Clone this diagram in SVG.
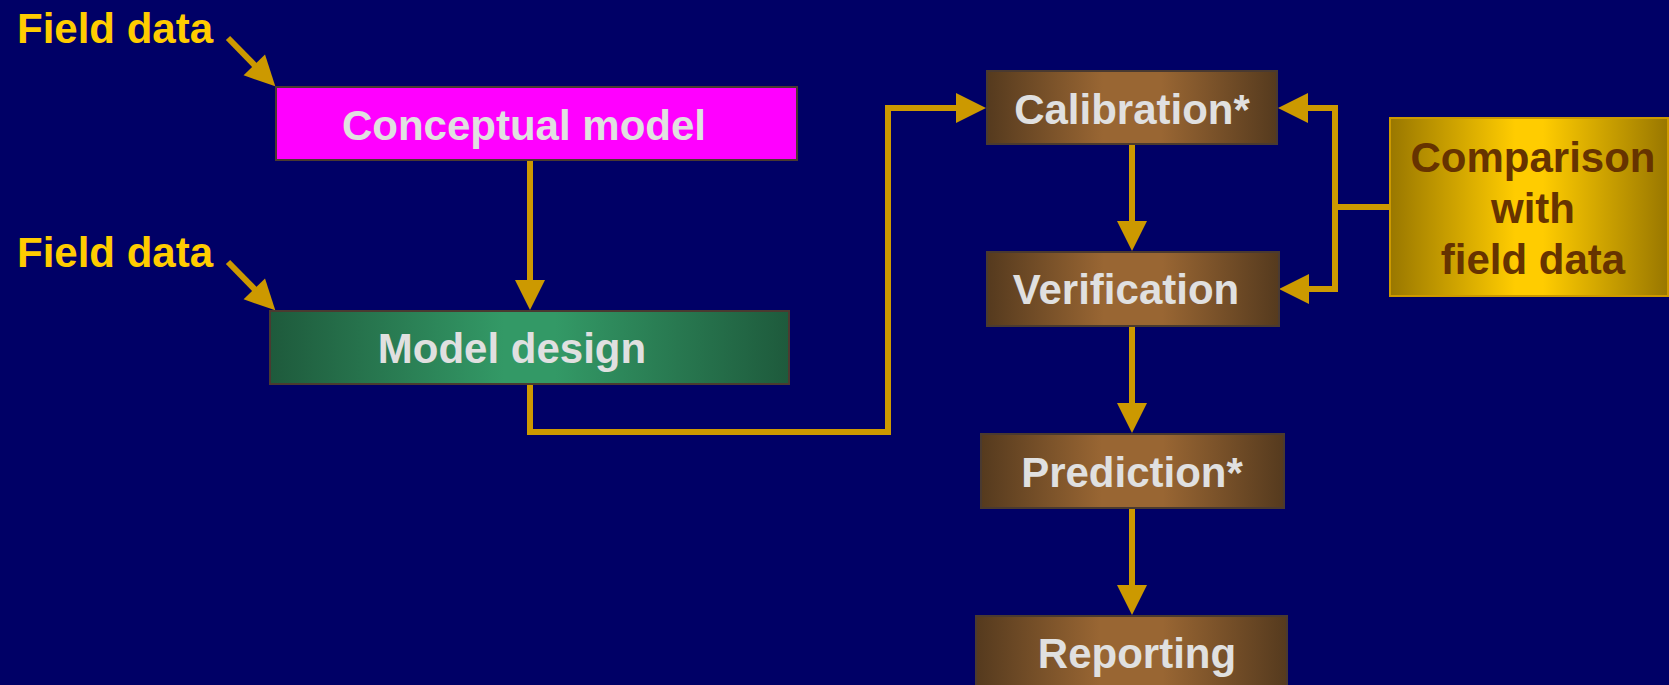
<svg xmlns="http://www.w3.org/2000/svg" width="1669" height="685" viewBox="0 0 1669 685">
<style>
.lbl{font-family:"Liberation Sans",Arial,sans-serif;font-weight:bold;font-size:42px;text-anchor:middle}
.light{fill:#E0E0E0}
.field{fill:#FFCC00;font-family:"Liberation Sans",Arial,sans-serif;font-weight:bold;font-size:42px}
.box{stroke:#4A3A30;stroke-width:2}
.conn{fill:none;stroke:#CC9900;stroke-width:6;marker-end:url(#ah)}
.conn2{fill:none;stroke:#CC9900;stroke-width:6}
</style>
<defs>
<marker id="ah" markerUnits="userSpaceOnUse" markerWidth="31" markerHeight="31" refX="1" refY="15" orient="auto" viewBox="0 0 31 30" overflow="visible">
<path d="M0,0 L30,15 L0,30 z" fill="#CC9900"/>
</marker>
<linearGradient id="brown" x1="0" y1="0" x2="1" y2="0">
<stop offset="0" stop-color="#553A1E"/>
<stop offset="0.4" stop-color="#996633"/>
<stop offset="0.6" stop-color="#996633"/>
<stop offset="1" stop-color="#553A1E"/>
</linearGradient>
<linearGradient id="green" x1="0" y1="0" x2="1" y2="0">
<stop offset="0" stop-color="#1E5A3C"/>
<stop offset="0.45" stop-color="#339966"/>
<stop offset="0.55" stop-color="#339966"/>
<stop offset="1" stop-color="#1E5A3C"/>
</linearGradient>
<linearGradient id="gold" x1="0" y1="0" x2="1" y2="0">
<stop offset="0" stop-color="#997700"/>
<stop offset="0.45" stop-color="#FFCC00"/>
<stop offset="0.55" stop-color="#FFCC00"/>
<stop offset="1" stop-color="#997700"/>
</linearGradient>
</defs>
<rect width="1669" height="685" fill="#000066"/>

<g id="field1"><text class="field" x="17" y="43">Field data</text></g>
<g id="field2"><text class="field" x="17" y="267">Field data</text></g>

<g id="connectors">
<path class="conn" d="M228,38 L255,65.6"/>
<path class="conn" d="M228,262 L255,289.6"/>
<path class="conn" d="M530,161 V281"/>
<path class="conn" d="M530,384 V432 H888 V108 H957"/>
<path class="conn" d="M1132,144 V222"/>
<path class="conn" d="M1132,326 V404"/>
<path class="conn" d="M1132,508 V586"/>
<path class="conn" d="M1390,207 H1335 V108 H1307"/>
<path class="conn" d="M1335,207 V289 H1308"/>
</g>

<g id="conceptual">
<rect class="box" x="276" y="87" width="521" height="73" fill="#FF00FF"/>
<text class="lbl light" x="524" y="140">Conceptual model</text>
</g>
<g id="design">
<rect class="box" x="270" y="311" width="519" height="73" fill="url(#green)"/>
<text class="lbl light" x="512" y="363">Model design</text>
</g>
<g id="calibration">
<rect class="box" x="987" y="71" width="290" height="73" fill="url(#brown)"/>
<text class="lbl light" x="1132" y="124">Calibration*</text>
</g>
<g id="verification">
<rect class="box" x="987" y="252" width="292" height="74" fill="url(#brown)"/>
<text class="lbl light" x="1126" y="304">Verification</text>
</g>
<g id="prediction">
<rect class="box" x="981" y="434" width="303" height="74" fill="url(#brown)"/>
<text class="lbl light" x="1132" y="487">Prediction*</text>
</g>
<g id="reporting">
<rect class="box" x="976" y="616" width="311" height="80" fill="url(#brown)"/>
<text class="lbl light" x="1137" y="668">Reporting</text>
</g>
<g id="comparison">
<rect x="1390" y="118" width="278" height="178" fill="url(#gold)" stroke="#CC9900" stroke-width="2"/>
<text class="lbl" fill="#663300" x="1533" y="172">Comparison</text>
<text class="lbl" fill="#663300" x="1533" y="223">with</text>
<text class="lbl" fill="#663300" x="1533" y="274">field data</text>
</g>
</svg>
